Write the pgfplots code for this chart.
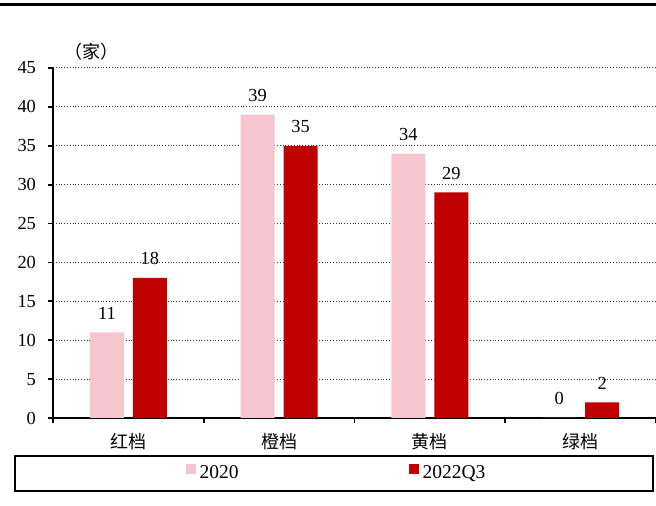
\documentclass[border=0pt]{standalone}
\usepackage{pgfplots}
\pgfplotsset{compat=1.18}
\usepackage{fontspec}
\setmainfont{Liberation Serif}
\newfontfamily\cjk{Noto Sans CJK SC}
\definecolor{pinkbar}{RGB}{246,198,207}
\definecolor{redbar}{RGB}{192,0,0}
\newcommand\f{\fontsize{9.2pt}{11pt}\selectfont}
\begin{document}
\begin{tikzpicture}
\useasboundingbox (0,0) rectangle (328pt,253pt);
\draw[line width=1.35pt] (0,250.6pt) -- (328pt,250.6pt);
\draw[line width=0.9pt] (7.5pt,7.5pt) rectangle (326.4pt,25pt);
\node[font=\cjk\fontsize{9pt}{11pt}\selectfont] at (45.5pt,227pt) {（家）};
\begin{axis}[
  at={(26.5pt,44pt)}, anchor=south west,
  scale only axis, width=301.5pt, height=175pt,
  xmin=-0.5, xmax=3.5, ymin=0, ymax=45,
  ytick={0,5,...,45},
  xtick={-0.5,0.5,1.5,2.5,3.5},
  x tick label as interval,
  xticklabels={红档,橙档,黄档,绿档},
  axis x line*=bottom, axis y line*=left,
  axis line style={line width=0.9pt, -},
  tick style={line width=0.9pt, black},
  tick align=outside, major tick length=2.5pt,
  ymajorgrids, major grid style={densely dotted, line width=0.5pt, black!80},
  /pgf/number format/assume math mode=true,
  yticklabel style={font=\f, xshift=-2.5pt},
  xticklabel style={font=\cjk\fontsize{9pt}{11pt}\selectfont, yshift=-1.5pt},
  ybar, bar width=17pt,
  nodes near coords,
  every node near coord/.append style={font=\f, yshift=3pt, black},
  clip=false,
  legend style={at={(0.4718,-0.1586)}, anchor=center, draw=none, fill=none,
    legend columns=2, font=\fontsize{9.75pt}{11pt}\selectfont,
    /tikz/every even column/.append style={column sep=83pt}},
]
\addplot[fill=pinkbar, draw=none, bar shift=-10.75pt,
  legend image code/.code={\fill[pinkbar] (0pt,0pt) rectangle (5pt,5pt);}]
  coordinates {(0,11) (1,39) (2,34) (3,0)};
\addlegendentry{2020}
\addplot[fill=redbar, draw=none, bar shift=10.75pt,
  legend image code/.code={\fill[redbar] (0pt,0pt) rectangle (5pt,5pt);}]
  coordinates {(0,18) (1,35) (2,29) (3,2)};
\addlegendentry{2022Q3}
\end{axis}
\end{tikzpicture}
\end{document}
